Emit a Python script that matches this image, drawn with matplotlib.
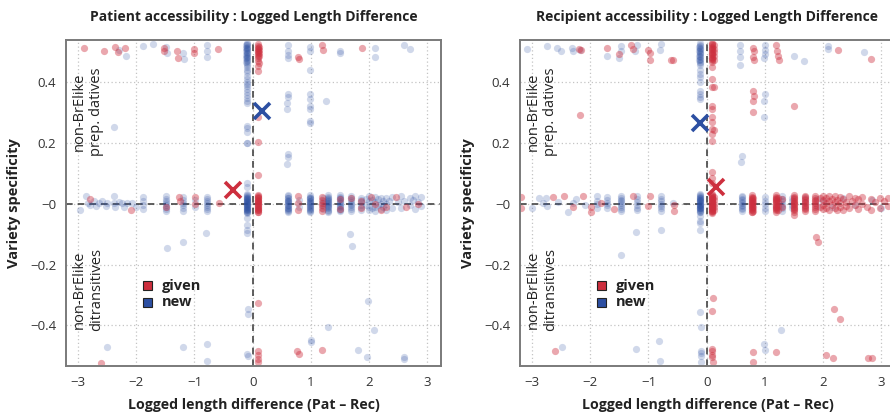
import matplotlib
matplotlib.use("Agg")
import matplotlib.pyplot as plt
from matplotlib.patches import Rectangle

plt.rcParams['font.family'] = ['Open Sans', 'DejaVu Sans']

# ---------------- data (x, [y values]) ----------------
titles = ["Patient accessibility : Logged Length Difference",
          "Recipient accessibility : Logged Length Difference"]
x_label = "Logged length difference (Pat \u2013 Rec)"
y_label = "Variety specificity"
x_ticks = [-3, -2, -1, 0, 1, 2, 3]
x_tick_labels = ["\u22123", "\u22122", "\u22121", "0", "1", "2", "3"]
y_ticks = [-0.4, -0.2, 0.0, 0.2, 0.4]
y_tick_labels = ["\u22120.4", "\u22120.2", "\u22120", "0.2", "0.4"]
groups = ["given", "new"]
top_note = "non-BrElike\nprep. datives"
bottom_note = "non-BrElike\nditransitives"

# Patient panel, 'given' (red)
pat_given = [
    (-2.90, [0.510]), (-2.56, [0.500]), (-2.36, [0.515]), (-2.32, [0.496]),
    (-2.20, [0.510]), (-1.53, [0.512, 0.500]), (-1.30, [0.500]), (-1.28, [0.478]),
    (-1.00, [0.507, 0.494]), (-0.60, [0.507]), (0.78, [0.480]), (0.79, [0.474]),
    (1.20, [0.520]), (1.21, [0.505]), (1.88, [0.510]),
    (0.10, [0.524, 0.518, 0.512, 0.507, 0.502, 0.497, 0.491, 0.485, 0.478,
            0.469, 0.452, 0.436, 0.285, 0.203, 0.094]),
    (0.11, [0.515, 0.505, 0.494, 0.483, 0.460]),
    (0.10, [0.029, 0.026, 0.022, 0.019, 0.017, 0.013, 0.010, 0.008, 0.004, 0.001,
            -0.002, -0.005, -0.008, -0.011, -0.013, -0.017, -0.020, -0.022,
            -0.026, -0.029]),
    (-2.80, [0.014]), (-2.10, [-0.021]), (-1.49, [-0.012]), (-1.27, [0.021]),
    (-1.25, [0.010]), (-0.99, [0.023, -0.001]), (-0.57, [0.003]),
    (0.78, [0.025, 0.002, -0.020]),
    (1.20, [0.022, 0.012, 0.003, -0.006, -0.014, -0.024]),
    (1.50, [0.016, -0.019]), (1.70, [0.020]), (1.87, [0.008, -0.015]),
    (2.04, [0.022]), (2.11, [0.000]), (2.30, [-0.012]), (2.47, [0.022]),
    (2.64, [-0.010]), (2.84, [0.000]), (2.20, [-0.022]),
    (0.097, [-0.325]), (0.10, [-0.485, -0.496, -0.510, -0.521]),
    (0.77, [-0.485]), (0.79, [-0.494]), (1.19, [-0.480]), (-2.60, [-0.523]),
]

# Patient panel, 'new' (blue)
pat_new = [
    (-2.30, [0.505]), (-2.18, [0.483]), (-1.89, [0.516]), (-1.71, [0.523]),
    (-1.49, [0.515]), (-1.47, [0.494]), (-1.19, [0.494]), (-1.18, [0.473]),
    (-0.79, [0.520, 0.500, 0.480]), (0.60, [0.520, 0.500, 0.488]), (0.61, [0.478]),
    (0.99, [0.515, 0.500, 0.440]), (0.60, [0.360, 0.350]), (0.59, [0.330, 0.310]),
    (0.61, [0.163, 0.152]), (0.59, [0.130]), (0.99, [0.360, 0.343]),
    (0.98, [0.320, 0.310, 0.270, 0.265]), (1.27, [0.336]), (1.50, [0.500]),
    (1.51, [0.493]), (2.10, [0.510, 0.480]), (2.60, [0.520]), (2.70, [0.507]),
    (-2.39, [0.253]),
    (-0.10, [0.527, 0.523, 0.519, 0.515, 0.511, 0.507, 0.503, 0.499, 0.495,
             0.490, 0.486, 0.482, 0.477, 0.472, 0.467, 0.462, 0.456, 0.448,
             0.440, 0.432, 0.420, 0.410, 0.400, 0.394, 0.386, 0.375, 0.365,
             0.355, 0.345, 0.336, 0.330, 0.255, 0.249, 0.236, 0.200, 0.198]),
    (-0.11, [0.520, 0.510, 0.500, 0.489, 0.478, 0.466]),
    (-0.10, [0.069, 0.054, -0.032, -0.048, -0.070, -0.086, -0.095]),
    (-0.10, [0.030, 0.027, 0.024, 0.022, 0.019, 0.016, 0.014, 0.011, 0.009, 0.006,
             0.004, 0.001, -0.001, -0.004, -0.006, -0.009, -0.012, -0.014, -0.017,
             -0.019, -0.022, -0.024, -0.027, -0.029]),
    (-0.09, [0.020, 0.010, 0.000, -0.010, -0.020]),
    (-2.97, [-0.021]), (-2.87, [0.025]), (-2.84, [0.001]), (-2.79, [-0.004]),
    (-2.73, [0.007]), (-2.70, [-0.008]), (-2.64, [0.001]), (-2.59, [0.007]),
    (-2.53, [-0.008]), (-2.50, [0.001]), (-2.39, [0.025, 0.001]), (-2.36, [-0.010]),
    (-2.30, [0.006]), (-2.25, [0.001]), (-2.22, [-0.010]), (-2.16, [0.001]),
    (-2.07, [0.001]), (-2.00, [-0.012]),
    (-1.89, [0.023, 0.007, -0.004, -0.019]),
    (-1.49, [0.024, 0.015, 0.008, 0.002, -0.005, -0.011, -0.018, -0.024]),
    (-1.20, [0.022, 0.012, 0.003, -0.006, -0.015, -0.023]),
    (-0.99, [0.012, -0.012]),
    (-0.79, [0.023, 0.016, 0.009, 0.003, -0.004, -0.012, -0.018, -0.023]),
    (0.60, [0.027, 0.024, 0.020, 0.017, 0.013, 0.010, 0.007, 0.004, 0.001, -0.003,
            -0.006, -0.009, -0.013, -0.016, -0.019, -0.022, -0.025, -0.028]),
    (0.79, [0.012, -0.010]),
    (0.99, [0.027, 0.023, 0.020, 0.017, 0.014, 0.010, 0.007, 0.004, 0.001, -0.002,
            -0.006, -0.009, -0.012, -0.015, -0.018, -0.021, -0.025, -0.028]),
    (1.21, [0.020, 0.010, 0.001, -0.009, -0.019]),
    (1.30, [0.027, 0.023, 0.019, 0.016, 0.012, 0.009, 0.005, 0.002, -0.002, -0.005,
            -0.009, -0.012, -0.016, -0.020, -0.024, -0.027]),
    (1.50, [0.028, 0.023, 0.018, 0.014, 0.009, 0.005, 0.001, -0.004, -0.008, -0.012,
            -0.017, -0.021, -0.025]),
    (1.70, [0.024, 0.018, 0.012, 0.006, 0.000, -0.006, -0.012, -0.018, -0.024]),
    (1.87, [0.020, 0.012, 0.004, -0.004, -0.012, -0.020]),
    (1.95, [0.015, -0.005]), (2.00, [0.025, 0.008, -0.010, -0.022]),
    (2.05, [0.012, -0.016]), (2.10, [0.022, 0.004, -0.012, -0.024]),
    (2.15, [0.015, -0.004]), (2.20, [0.020, 0.000, -0.018]),
    (2.25, [0.010, -0.010]), (2.30, [0.018, -0.002, -0.020]),
    (2.35, [0.008]), (2.40, [0.022, -0.014]), (2.50, [0.005]), (2.55, [0.024, -0.016]),
    (2.60, [0.010]), (2.70, [0.020, -0.006]), (2.75, [0.012]), (2.80, [0.024, -0.018]),
    (2.85, [0.004]), (2.90, [0.022, -0.008]),
    (-0.80, [-0.095]), (-1.20, [-0.125]), (-1.47, [-0.146]), (1.67, [-0.100]),
    (1.71, [-0.139]),
    (-0.08, [-0.347, -0.362]), (1.98, [-0.319]), (1.30, [-0.405]), (2.08, [-0.416]),
    (1.01, [-0.449, -0.454]), (1.82, [-0.480]), (1.97, [-0.502]),
    (2.61, [-0.502, -0.509]), (-2.50, [-0.469]), (-1.19, [-0.472]),
    (-0.79, [-0.461]), (-0.78, [-0.518]), (-0.10, [-0.494]), (-0.08, [-0.500]),
]

# Recipient panel, 'given' (red)
rec_given = [
    (-2.20, [0.507]), (-2.16, [0.505]), (-1.71, [0.512]), (-1.51, [0.490]),
    (-1.30, [0.520]), (-1.27, [0.507]), (-1.00, [0.503]), (-0.98, [0.495, 0.470]),
    (-0.61, [0.470]), (-0.58, [0.470]), (0.80, [0.510, 0.480]), (0.81, [0.500, 0.470]),
    (1.20, [0.520]), (1.21, [0.500]), (1.23, [0.485]), (1.25, [0.470]),
    (0.80, [0.368]), (0.81, [0.354]), (0.79, [0.338, 0.300]), (1.50, [0.320]),
    (2.26, [0.505]), (2.83, [0.474]), (-2.17, [0.290]),
    (0.10, [0.527, 0.523, 0.519, 0.515, 0.511, 0.507, 0.503, 0.499, 0.495, 0.491,
            0.487, 0.482, 0.478, 0.474, 0.470, 0.465, 0.447, 0.410, 0.384, 0.320,
            0.310, 0.285, 0.267, 0.245, 0.230, 0.206, 0.105, 0.083, 0.067]),
    (0.12, [0.520, 0.508, 0.496, 0.484, 0.472, 0.384, 0.240]),
    (0.10, [0.030, 0.027, 0.024, 0.022, 0.019, 0.017, 0.014, 0.011, 0.009, 0.006,
            0.003, 0.001, -0.002, -0.004, -0.007, -0.010, -0.012, -0.015, -0.017,
            -0.020, -0.023, -0.025, -0.028, -0.030]),
    (0.12, [0.022, 0.011, 0.000, -0.011, -0.022]),
    (0.78, [0.027, 0.023, 0.020, 0.016, 0.013, 0.009, 0.006, 0.002, -0.001, -0.005,
            -0.008, -0.012, -0.015, -0.019, -0.022, -0.026, -0.029]),
    (0.80, [0.018, 0.004, -0.010, -0.024]),
    (1.20, [0.027, 0.023, 0.019, 0.015, 0.012, 0.008, 0.004, 0.001, -0.003, -0.007,
            -0.011, -0.014, -0.018, -0.022, -0.026]),
    (1.22, [0.020, 0.006, -0.008, -0.020]),
    (1.30, [0.015, -0.012]),
    (1.50, [0.027, 0.022, 0.018, 0.014, 0.010, 0.006, 0.002, -0.002, -0.006, -0.010,
            -0.014, -0.018, -0.022, -0.027, -0.037]),
    (1.70, [0.026, 0.021, 0.016, 0.011, 0.006, 0.002, -0.003, -0.008, -0.013,
            -0.018, -0.023]),
    (1.87, [0.025, 0.019, 0.013, 0.007, 0.001, -0.005, -0.011, -0.017, -0.023]),
    (1.95, [0.020, -0.010]), (2.00, [0.026, 0.012, -0.004, -0.018]),
    (2.05, [0.018, 0.002, -0.014]), (2.10, [0.024, 0.008, -0.022]),
    (2.15, [0.014, -0.006]), (2.20, [0.025, 0.004, -0.016]),
    (2.25, [0.012, -0.020]), (2.30, [0.022, 0.002, -0.012]),
    (2.35, [0.016, -0.022]), (2.40, [0.006, -0.008]), (2.45, [0.024, -0.016]),
    (2.50, [0.010]), (2.55, [0.020, -0.004]), (2.60, [0.014, -0.018]),
    (2.68, [0.022, 0.000]), (2.75, [-0.012]), (2.82, [0.016, -0.020]),
    (2.90, [0.004]), (2.98, [0.020, -0.014]), (3.05, [0.008]), (3.12, [0.018, -0.008]),
    (-3.19, [0.023, -0.015]), (-2.65, [0.023]), (-2.45, [0.025]), (-2.13, [0.025]),
    (-1.99, [-0.010, -0.026]), (-1.82, [0.001]), (-1.27, [0.025]),
    (-0.98, [0.025]), (-1.00, [-0.008]), (-0.56, [-0.004, -0.023]),
    (-2.30, [-0.012]), (-1.60, [-0.018]),
    (1.88, [-0.108]), (1.91, [-0.125]),
    (0.11, [-0.310]), (0.10, [-0.351, -0.478, -0.485, -0.496, -0.503]),
    (0.11, [-0.521]), (0.79, [-0.487]), (0.80, [-0.521]), (1.19, [-0.487]),
    (-2.60, [-0.483]), (2.19, [-0.345]), (2.30, [-0.379]), (2.06, [-0.497]),
    (2.18, [-0.508]), (2.78, [-0.507]), (2.84, [-0.507]),
]

# Recipient panel, 'new' (blue)
rec_new = [
    (-3.09, [0.507]), (-2.75, [0.518]), (-2.58, [0.512]), (-2.50, [0.500]),
    (-2.32, [0.512]), (-2.30, [0.500]), (-2.17, [0.503]), (-1.71, [0.485]),
    (-1.48, [0.516]), (-1.47, [0.500]), (-1.51, [0.477]), (-1.20, [0.520]),
    (-1.24, [0.500]), (-0.81, [0.505]), (-0.78, [0.523]),
    (0.58, [0.520, 0.500, 0.480]), (0.57, [0.456]),
    (1.00, [0.520, 0.505, 0.490, 0.360]), (0.99, [0.477, 0.338, 0.285]),
    (0.60, [0.157]), (0.59, [0.135]), (1.50, [0.485]), (1.68, [0.468]),
    (2.09, [0.518, 0.507]), (2.71, [0.496]),
    (-0.12, [0.526, 0.521, 0.517, 0.512, 0.508, 0.503, 0.499, 0.494, 0.490, 0.485,
             0.481, 0.476, 0.471, 0.466, 0.461, 0.456, 0.440, 0.425, 0.414, 0.398,
             0.370, 0.360, 0.350, 0.343]),
    (-0.13, [0.515, 0.500, 0.486, 0.470]),
    (-0.12, [0.030, 0.027, 0.024, 0.021, 0.019, 0.016, 0.013, 0.011, 0.008, 0.005,
             0.003, 0.000, -0.003, -0.005, -0.008, -0.011, -0.013, -0.016, -0.019,
             -0.021, -0.024, -0.027, -0.029, -0.040, -0.057, -0.064, -0.086]),
    (-0.11, [0.020, 0.008, -0.004, -0.016]),
    (-3.01, [-0.015]), (-2.88, [0.020]), (-2.82, [0.001]), (-2.77, [0.018]),
    (-2.74, [-0.008]), (-2.56, [0.005]), (-2.39, [-0.026]), (-2.30, [0.002]),
    (-2.25, [0.014]), (-2.10, [-0.004]),
    (-1.89, [0.024, 0.010, -0.002, -0.015]),
    (-1.71, [0.022, 0.012, 0.003, -0.006, -0.016]),
    (-1.48, [0.025, 0.019, 0.013, 0.007, 0.001, -0.005, -0.011, -0.017, -0.023]),
    (-1.20, [0.024, 0.014, 0.005, -0.004, -0.013, -0.022]),
    (-0.79, [0.024, 0.016, 0.008, 0.000, -0.008, -0.016, -0.024]),
    (-0.58, [0.001]),
    (0.60, [0.026, 0.021, 0.016, 0.011, 0.006, 0.001, -0.004, -0.009, -0.014,
            -0.019, -0.024]),
    (1.01, [0.022, 0.010, -0.002, -0.014, -0.024]),
    (1.20, [0.015, -0.010]),
    (1.29, [0.024, 0.016, 0.008, 0.000, -0.008, -0.016, -0.024]),
    (1.47, [0.020, 0.008, -0.004, -0.016]),
    (1.69, [0.018, 0.004, -0.012]),
    (1.89, [0.015, -0.008]),
    (2.00, [0.010]), (2.15, [-0.012]), (2.35, [0.020]), (2.55, [-0.006]),
    (2.85, [0.012]), (3.00, [-0.016]),
    (-1.22, [-0.092]), (-0.79, [-0.086]),
    (-2.49, [-0.471]), (-1.21, [-0.478]), (-0.82, [-0.452]), (-0.80, [-0.518]),
    (-0.11, [-0.357]), (-0.10, [-0.404, -0.483, -0.490, -0.500]),
    (-0.09, [-0.521]), (1.28, [-0.414]), (0.99, [-0.460]), (1.01, [-0.482]),
    (-1.47, [-0.168]),
]

# group means (cross markers)
pat_means = {"given": (-0.33, 0.045), "new": (0.168, 0.304)}
rec_means = {"given": (0.155, 0.054), "new": (-0.115, 0.265)}

# ---------------- styling ----------------
red = "#cd2f3e"
blue = "#2c4fa2"
colors = {"given": red, "new": blue}
alphas = {"given": 0.42, "new": 0.22}


def expand(cols):
    xs, ys = [], []
    for x, yl in cols:
        for y in yl:
            xs.append(x)
            ys.append(y)
    return xs, ys


fig = plt.figure(figsize=(8.9, 4.17), dpi=100)
positions = [[66 / 890, 51 / 417, 375 / 890, 326 / 417],
             [520 / 890, 51 / 417, 375 / 890, 326 / 417]]
panels = [({"given": pat_given, "new": pat_new}, pat_means),
          ({"given": rec_given, "new": rec_new}, rec_means)]

for i, (pos, (data, means)) in enumerate(zip(positions, panels)):
    ax = fig.add_axes(pos)
    ax.set_xlim(-3.21, 3.24)
    ax.set_ylim(-0.533, 0.537)
    ax.set_xticks(x_ticks)
    ax.set_xticklabels(x_tick_labels)
    ax.set_yticks(y_ticks)
    ax.set_yticklabels(y_tick_labels)
    ax.tick_params(length=0, labelsize=9.5, colors="#333333", pad=7)
    ax.grid(True, color="#c4c4c4", linestyle=(0, (1, 2)), linewidth=0.9)
    ax.set_axisbelow(True)
    for s in ax.spines.values():
        s.set_color("#7a7a7a")
        s.set_linewidth(1.4)

    ax.axvline(0, color="#444444", linestyle=(0, (4, 3)), linewidth=1.2, zorder=1.5)
    ax.axhline(0, color="#444444", linestyle=(0, (4, 3)), linewidth=1.2, zorder=1.5)

    for g in ["new", "given"]:
        xs, ys = expand(data[g])
        ax.scatter(xs, ys, s=27, color=colors[g], alpha=alphas[g],
                   linewidths=0, zorder=2)
    for g in groups:
        mx, my = means[g]
        ax.plot([mx], [my], marker="x", markersize=11, mew=2.6,
                color=colors[g], linestyle="none", zorder=4)

    ax.set_title(titles[i], fontsize=10, fontweight="bold", pad=14, color="#222222")
    ax.set_xlabel(x_label, fontsize=10.2, fontweight="bold", color="#222222")
    ax.set_ylabel(y_label, fontsize=10.5, fontweight="bold", color="#222222")
    ax.xaxis.set_label_coords(0.5, -0.12)
    ax.xaxis.label.set_va("center")
    ax.yaxis.set_label_coords(-52 / 375, 0.5)
    ax.yaxis.label.set_va("center")

    ax.text(22 / 375, 0.78, top_note, transform=ax.transAxes, rotation=90,
            ha="center", va="center", multialignment="center",
            fontsize=10.5, color="#222222", linespacing=1.2)
    ax.text(22 / 375, 0.235, bottom_note, transform=ax.transAxes, rotation=90,
            ha="center", va="center", multialignment="center",
            fontsize=10.5, color="#222222", linespacing=1.2)

    # legend
    for j, g in enumerate(groups):
        yy = 0.246 - j * 0.05
        ax.add_patch(Rectangle((77 / 375, yy - 0.0135), 9 / 375, 0.027,
                               transform=ax.transAxes, facecolor=colors[g],
                               edgecolor="#222222", linewidth=0.8, zorder=5))
        ax.text(96 / 375, yy, g, transform=ax.transAxes, ha="left", va="center",
                fontsize=10.5, fontweight="bold", color="#222222", zorder=5)

fig.savefig("out.png", dpi=100)
